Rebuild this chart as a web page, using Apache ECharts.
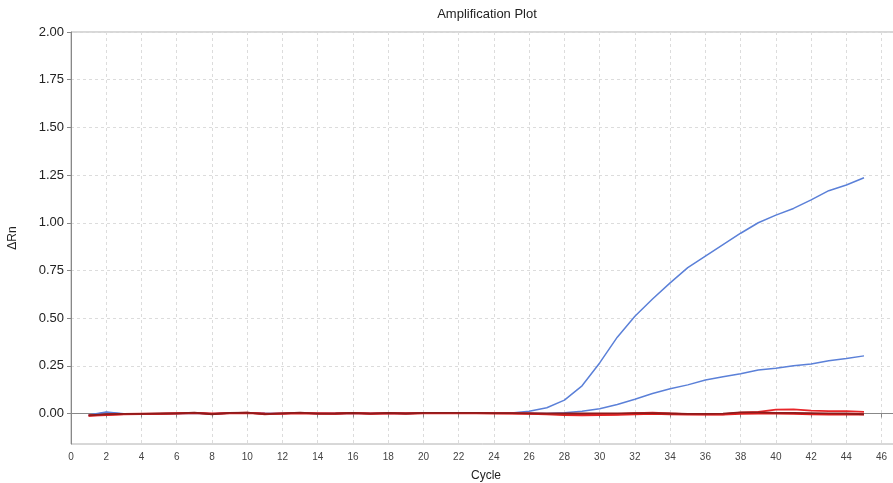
<!DOCTYPE html>
<html>
<head>
<meta charset="utf-8">
<script src="https://cdn.jsdelivr.net/npm/echarts@6/dist/echarts.min.js"></script>
<style>html,body{margin:0;padding:0;background:#fff}#c{width:893px;height:483px}</style>
</head>
<body>
<div id="c"></div>
<script>
const cycles = [1,2,3,4,5,6,7,8,9,10,11,12,13,14,15,16,17,18,19,20,21,22,23,24,25,26,27,28,29,30,31,32,33,34,35,36,37,38,39,40,41,42,43,44,45];
const blueHigh = [-0.010,0.005,-0.003,-0.002,-0.002,0.000,0.002,-0.002,0.002,0.004,0.000,0.000,0.003,0.000,0.000,0.002,0.000,0.002,0.000,0.003,0.003,0.003,0.003,0.003,0.003,0.012,0.030,0.070,0.145,0.265,0.400,0.510,0.600,0.685,0.765,0.825,0.885,0.945,1.000,1.040,1.075,1.120,1.168,1.198,1.236];
const blueLow = [-0.008,0.008,-0.002,-0.002,-0.001,0.000,0.001,-0.002,0.001,0.003,0.001,0.000,0.002,0.000,0.000,0.001,0.000,0.001,0.000,0.002,0.002,0.002,0.002,0.002,0.002,0.001,0.000,0.004,0.012,0.025,0.047,0.075,0.105,0.130,0.150,0.176,0.192,0.208,0.228,0.237,0.250,0.260,0.276,0.288,0.302];
const redBump = [-0.012,-0.008,-0.004,-0.003,-0.002,0.000,0.003,-0.003,0.002,0.004,-0.004,0.001,0.003,0.000,0.000,0.003,0.000,0.002,0.000,0.002,0.002,0.002,0.002,0.002,0.001,0.000,-0.002,-0.005,-0.008,-0.006,-0.004,0.002,0.005,0.000,-0.003,-0.004,-0.004,0.005,0.008,0.020,0.022,0.015,0.012,0.012,0.008];
const redFlat = [-0.010,-0.006,-0.003,-0.002,-0.001,0.001,0.002,0.000,0.001,0.002,0.000,-0.001,0.001,0.000,-0.001,0.001,-0.001,0.000,0.000,0.001,0.001,0.001,0.001,0.000,0.000,-0.002,-0.004,-0.008,-0.009,-0.008,-0.007,-0.004,-0.002,-0.004,-0.005,-0.005,-0.005,-0.002,0.000,0.000,-0.002,-0.004,-0.005,-0.005,-0.005];
const darkRed = [-0.010,-0.004,-0.002,-0.002,0.000,0.001,0.004,-0.004,0.003,0.005,-0.003,0.001,0.004,-0.001,0.000,0.003,-0.001,0.003,0.000,0.003,0.003,0.003,0.003,0.002,0.002,0.001,0.000,0.000,0.000,0.001,0.001,0.002,0.002,0.000,-0.002,-0.002,-0.001,0.006,0.006,0.003,0.003,0.002,0.001,0.000,-0.004];
const yTickLabels = ['0.00','0.25','0.50','0.75','1.00','1.25','1.50','1.75','2.00'];

const pairs = v => cycles.map((c, i) => [c, v[i]]);
const font = 'Liberation Sans, Arial, sans-serif';
const chart = echarts.init(document.getElementById('c'), null, {renderer: 'canvas'});
chart.setOption({
  animation: false,
  title: {text: 'Amplification Plot', left: 482, top: 3, textAlign: 'center',
    textStyle: {fontFamily: font, fontSize: 13, fontWeight: 'normal', color: '#222'}},
  grid: [
    {left: 71, top: 32, width: 830, height: 412, outerBoundsMode: 'none', containLabel: false,
     show: true, borderColor: '#b0b0b0', borderWidth: 1, backgroundColor: 'transparent'},
    {left: 71, top: 32, width: 830, height: 381.5, outerBoundsMode: 'none', containLabel: false, show: false}
  ],
  xAxis: [
    {type: 'value', gridIndex: 0, min: 0, max: 47.1, interval: 2,
     name: 'Cycle', nameLocation: 'middle', nameGap: 26,
     nameTextStyle: {fontFamily: font, fontSize: 12, color: '#222'},
     axisLine: {show: true, lineStyle: {color: '#888'}},
     axisTick: {show: true, length: 4, lineStyle: {color: '#888'}},
     axisLabel: {fontFamily: font, fontSize: 10, color: '#444', margin: 8, showMaxLabel: false,
       formatter: v => (Math.abs(v - Math.round(v)) < 1e-6 ? String(Math.round(v)) : '')},
     splitLine: {show: true, lineStyle: {color: '#dcdcdc', type: [3, 3]}}},
    {type: 'value', gridIndex: 1, min: 0, max: 47.1, show: false}
  ],
  yAxis: [
    {type: 'value', gridIndex: 0, min: -0.16, max: 2,
     name: 'ΔRn', nameLocation: 'middle', nameGap: 52,
     nameTextStyle: {fontFamily: font, fontSize: 12, color: '#222'},
     axisLine: {show: true, lineStyle: {color: '#888'}},
     axisTick: {show: false}, axisLabel: {show: false}, splitLine: {show: false}},
    {type: 'value', gridIndex: 1, min: 0, max: 2, interval: 0.25,
     axisLine: {show: false},
     axisTick: {show: true, length: 4, lineStyle: {color: '#888'}},
     axisLabel: {fontFamily: font, fontSize: 13, color: '#222', margin: 7,
       formatter: v => yTickLabels[Math.round(v / 0.25)] || ''},
     splitLine: {show: true, lineStyle: {color: '#dcdcdc', type: [3, 3]}}}
  ],
  series: [
    {name: 'Sample-1', type: 'line', xAxisIndex: 0, yAxisIndex: 0, data: pairs(blueLow), showSymbol: false, lineStyle: {color: '#5b80d8', width: 1.5}},
    {name: 'Sample-2', type: 'line', xAxisIndex: 0, yAxisIndex: 0, data: pairs(blueHigh), showSymbol: false, lineStyle: {color: '#5b80d8', width: 1.5}},
    {name: 'NTC-1', type: 'line', xAxisIndex: 0, yAxisIndex: 0, data: pairs(redFlat), showSymbol: false, lineStyle: {color: '#e31b1b', width: 2}},
    {name: 'NTC-2', type: 'line', xAxisIndex: 0, yAxisIndex: 0, data: pairs(redBump), showSymbol: false, lineStyle: {color: '#e8262a', width: 1.8}},
    {name: 'NTC-3', type: 'line', xAxisIndex: 0, yAxisIndex: 0, data: pairs(darkRed), showSymbol: false, lineStyle: {color: '#8e1b1b', width: 1.8}}
  ]
});
</script>
</body>
</html>
